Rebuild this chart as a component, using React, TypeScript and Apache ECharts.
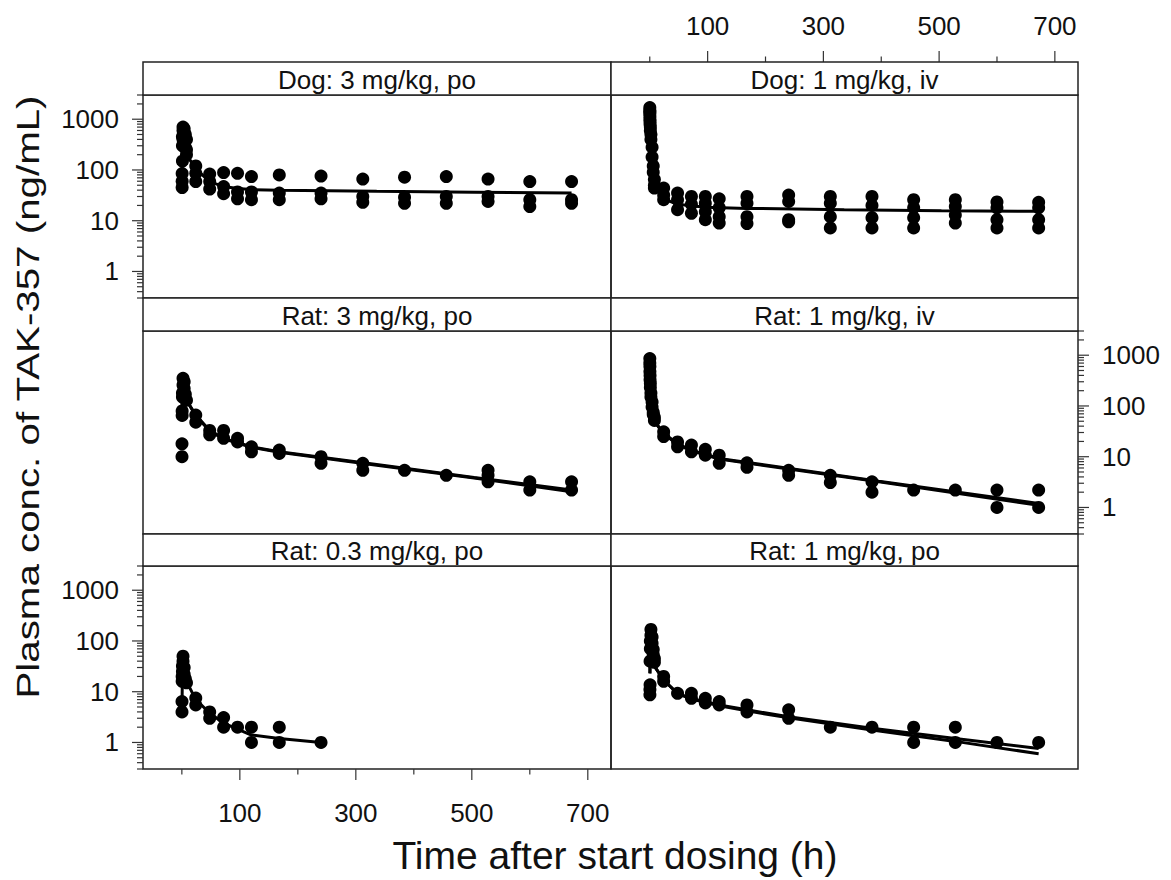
import React, { useEffect, useRef } from "react";
import * as echarts from "echarts";

const FONT = "'Liberation Sans', Arial, Helvetica, sans-serif";

// ---------- Panel titles ----------
const PANEL_TITLES = [
  "Dog: 3 mg/kg, po",
  "Dog: 1 mg/kg, iv",
  "Rat: 3 mg/kg, po",
  "Rat: 1 mg/kg, iv",
  "Rat: 0.3 mg/kg, po",
  "Rat: 1 mg/kg, po",
];

// ---------- Axis ticks ----------
const X_LABELS = [100, 300, 500, 700];
const X_MINOR = [0, 200, 400, 600];
const Y_MAJOR = [1, 10, 100, 1000];
const Y_MINOR = [
  0.3, 0.4, 0.5, 0.6, 0.7, 0.8, 0.9,
  2, 3, 4, 5, 6, 7, 8, 9,
  20, 30, 40, 50, 60, 70, 80, 90,
  200, 300, 400, 500, 600, 700, 800, 900,
  2000, 3000,
];

// ---------- Observed data [time h, conc ng/mL] ----------
const dogPoObs = [
  [0.5, 45], [0.5, 60], [0.5, 85], [1, 150], [1, 300], [1, 450], [2, 400], [2, 600], [2, 700],
  [4, 550], [4, 650], [4, 350], [6, 500], [6, 280], [8, 250], [8, 200], [8, 400],
  [24, 120], [24, 86], [24, 59],
  [48, 83], [48, 59], [48, 42],
  [72, 89], [72, 47], [72, 34],
  [96, 86], [96, 37], [96, 27],
  [120, 74], [120, 37], [120, 26],
  [168, 80], [168, 35], [168, 26],
  [240, 76], [240, 35], [240, 27],
  [312, 66], [312, 30], [312, 23],
  [384, 72], [384, 29], [384, 22],
  [456, 74], [456, 30], [456, 22],
  [528, 66], [528, 30], [528, 24],
  [600, 59], [600, 26], [600, 19],
  [672, 59], [672, 26], [672, 22],
];

const dogIvObs = [
  [0.083, 1700], [0.083, 1500], [0.083, 1300], [0.25, 1400], [0.25, 1150], [0.25, 1000],
  [0.5, 900], [0.5, 800], [1, 700], [1, 600], [2, 500], [2, 400], [4, 280], [4, 180],
  [6, 120], [6, 90], [8, 65], [8, 50], [8, 44],
  [24, 44], [24, 32], [24, 26],
  [48, 35], [48, 26], [48, 16.5],
  [72, 30], [72, 21], [72, 14],
  [96, 30], [96, 22], [96, 15], [96, 10.5],
  [120, 27], [120, 18], [120, 12], [120, 9],
  [168, 30], [168, 22], [168, 12], [168, 8.8],
  [240, 32], [240, 24], [240, 10.5], [240, 9.5],
  [312, 30], [312, 22], [312, 12], [312, 7.2],
  [384, 30], [384, 20], [384, 11.5], [384, 7.2],
  [456, 26], [456, 18], [456, 11.5], [456, 7.2],
  [528, 26], [528, 19], [528, 13], [528, 9],
  [600, 23.5], [600, 18], [600, 10.5], [600, 7.2],
  [672, 23], [672, 18], [672, 10.5], [672, 7.2],
];

const rat3PoObs = [
  [0.25, 10], [0.25, 18], [0.5, 65], [0.5, 80], [1, 150], [1, 180], [2, 260], [2, 350],
  [4, 300], [4, 220], [6, 170], [8, 130],
  [24, 66], [24, 48],
  [48, 33], [48, 27],
  [72, 33], [72, 23],
  [96, 23], [96, 19.5],
  [120, 15.7], [120, 12.5],
  [168, 13.5], [168, 11.6],
  [240, 10], [240, 7.4],
  [312, 7.4], [312, 5.4],
  [384, 5.4],
  [456, 4.3],
  [528, 5.4], [528, 4.3], [528, 3.2],
  [600, 3.2], [600, 2.2],
  [672, 3.2], [672, 2.2],
];

const rat1IvObs = [
  [0.083, 860], [0.083, 700], [0.25, 600], [0.25, 480], [0.5, 400], [0.5, 330], [1, 280], [1, 230],
  [2, 180], [2, 150], [4, 120], [4, 95], [6, 75], [6, 68], [8, 60], [8, 52],
  [24, 31], [24, 25],
  [48, 19.5], [48, 15.7],
  [72, 17], [72, 12.5],
  [96, 14], [96, 10.7],
  [120, 10.7], [120, 7.4],
  [168, 7.6], [168, 6.2],
  [240, 5.4], [240, 4.3],
  [312, 4.3], [312, 3.1],
  [384, 3.2], [384, 2.0],
  [456, 2.2],
  [528, 2.2],
  [600, 2.2], [600, 1.0],
  [672, 2.2], [672, 1.0],
];

const rat03PoObs = [
  [0.25, 4], [0.25, 6.4], [0.5, 16], [0.5, 20], [1, 25], [1, 32], [2, 40], [2, 50],
  [4, 30], [4, 22], [6, 18], [8, 15],
  [24, 7.5], [24, 5.5],
  [48, 4.0], [48, 3.0],
  [72, 3.1], [72, 2.0],
  [96, 2.0],
  [120, 2.0], [120, 1.0],
  [168, 2.0], [168, 1.0],
  [240, 1.0],
];

const rat1PoObs = [
  [0.25, 8.7], [0.25, 11], [0.5, 13.7], [0.5, 40], [1, 70], [1, 100], [2, 130], [2, 169],
  [4, 120], [4, 90], [6, 68], [6, 54], [8, 45], [8, 38],
  [24, 20], [24, 16],
  [48, 9.3],
  [72, 9.3], [72, 7.4],
  [96, 7.4], [96, 6.0],
  [120, 6.4], [120, 5.5],
  [168, 5.5], [168, 4.0],
  [240, 4.4], [240, 3.0],
  [312, 2.0],
  [384, 2.0],
  [456, 2.0], [456, 1.0],
  [528, 2.0], [528, 1.0],
  [600, 1.0],
  [672, 1.0],
];

// ---------- Model fits [time h, conc ng/mL] ----------
const dogPoFit = [
  [0.25, 60], [1, 250], [2, 320], [4, 290], [8, 200], [24, 105], [48, 59], [72, 47],
  [96, 43], [120, 41], [168, 40], [336, 38], [504, 36.5], [672, 35],
];
const dogIvFit = [
  [0.083, 1600], [0.5, 1100], [1, 800], [2, 420], [4, 150], [6, 80], [8, 55], [24, 27],
  [48, 21], [96, 18.5], [168, 17.5], [336, 16.5], [504, 15.8], [672, 15.3],
];
const rat3PoFitA = [
  [0.25, 70], [1, 220], [2, 260], [4, 200], [8, 130], [24, 66], [48, 33], [72, 23],
  [120, 15.7], [168, 12.5], [336, 7.0], [504, 3.9], [672, 2.2],
];
const rat3PoFitB = [
  [0.25, 70], [1, 220], [2, 260], [4, 200], [8, 130], [24, 64], [48, 32], [72, 22.5],
  [120, 15.3], [168, 12.2], [336, 6.8], [504, 3.8], [672, 2.05],
];
const rat1IvFitA = [
  [0.083, 930], [0.5, 520], [1, 350], [2, 200], [4, 100], [8, 50], [24, 29], [48, 18],
  [72, 13.5], [120, 9.2], [396, 3.3], [672, 1.2],
];
const rat1IvFitB = [
  [0.083, 930], [0.5, 520], [1, 350], [2, 200], [4, 100], [8, 50], [24, 28], [48, 17.5],
  [72, 13], [120, 9.0], [396, 3.2], [672, 1.1],
];
const rat03PoFit = [
  [0.25, 4.5], [1, 28], [2, 37], [4, 25], [8, 16], [24, 7], [48, 3.8], [72, 2.4],
  [120, 1.4], [168, 1.2], [240, 1.0],
];
const rat1PoFitA = [
  [0.25, 23], [1, 90], [2, 85], [4, 50], [8, 32], [24, 17], [48, 9.3], [72, 7.4],
  [120, 5.5], [168, 4.4], [240, 3.2], [384, 1.9], [528, 1.2], [672, 0.76],
];
const rat1PoFitB = [
  [0.25, 23], [1, 90], [2, 85], [4, 50], [8, 32], [24, 17], [48, 9.1], [72, 7.2],
  [120, 5.3], [168, 4.2], [240, 3.05], [384, 1.75], [528, 1.05], [672, 0.6],
];

// ---------- Layout ----------
const COLS = [
  { left: 143, width: 468 },
  { left: 611, width: 467 },
];
const ROWS = [
  { top: 95, height: 203, strip: 33 },
  { top: 331, height: 203, strip: 33 },
  { top: 566, height: 203, strip: 32 },
];

type Panel = {
  title: string;
  obs: number[][];
  fits: number[][][];
  row: number;
  col: number;
  yLab: "left" | "right" | null;
  xLab: "top" | "bottom" | null;
};

const PANELS: Panel[] = [
  { title: PANEL_TITLES[0], obs: dogPoObs, fits: [dogPoFit], row: 0, col: 0, yLab: "left", xLab: null },
  { title: PANEL_TITLES[1], obs: dogIvObs, fits: [dogIvFit], row: 0, col: 1, yLab: null, xLab: "top" },
  { title: PANEL_TITLES[2], obs: rat3PoObs, fits: [rat3PoFitA, rat3PoFitB], row: 1, col: 0, yLab: null, xLab: null },
  { title: PANEL_TITLES[3], obs: rat1IvObs, fits: [rat1IvFitA, rat1IvFitB], row: 1, col: 1, yLab: "right", xLab: null },
  { title: PANEL_TITLES[4], obs: rat03PoObs, fits: [rat03PoFit], row: 2, col: 0, yLab: "left", xLab: "bottom" },
  { title: PANEL_TITLES[5], obs: rat1PoObs, fits: [rat1PoFitA, rat1PoFitB], row: 2, col: 1, yLab: null, xLab: null },
];

const INK = "#111";
const BORDER = "#222";

function xFormatter(v: number) {
  const r = Math.round(v);
  return Math.abs(v - r) < 1e-6 && X_LABELS.includes(r) ? String(r) : "";
}
function yFormatter(v: number) {
  const l = Math.log10(v);
  const r = Math.round(l);
  return Math.abs(l - r) < 1e-6 && r >= 0 ? String(Math.round(Math.pow(10, r))) : "";
}

function buildOption() {
  const grid: any[] = [];
  const xAxis: any[] = [];
  const yAxis: any[] = [];
  const series: any[] = [];
  const graphic: any[] = [];

  PANELS.forEach((p, i) => {
    const c = COLS[p.col];
    const r = ROWS[p.row];
    grid.push({
      left: c.left,
      top: r.top,
      width: c.width,
      height: r.height,
      show: true,
      borderColor: BORDER,
      borderWidth: 1.5,
      backgroundColor: "transparent",
      containLabel: false,
    });
    xAxis.push({
      gridIndex: i,
      type: "value",
      min: -67,
      max: 740,
      splitNumber: 8,
      position: p.xLab === "top" ? "top" : "bottom",
      offset: p.xLab === "top" ? r.strip : 0,
      axisLine: { show: false },
      axisTick: { show: false },
      splitLine: { show: false },
      axisLabel: {
        show: !!p.xLab,
        formatter: xFormatter,
        fontSize: 26,
        fontFamily: FONT,
        color: INK,
        margin: p.xLab === "top" ? 23 : 31,
        showMinLabel: false,
        showMaxLabel: false,
      },
    });
    yAxis.push({
      gridIndex: i,
      type: "log",
      logBase: 10,
      min: 0.3,
      max: 3000,
      position: p.yLab === "right" ? "right" : "left",
      axisLine: { show: false },
      axisTick: { show: false },
      splitLine: { show: false },
      minorTick: { show: false },
      axisLabel: {
        show: !!p.yLab,
        formatter: yFormatter,
        fontSize: 26,
        fontFamily: FONT,
        color: INK,
        margin: 24,
        showMinLabel: false,
        showMaxLabel: false,
      },
    });

    p.fits.forEach((f) => {
      series.push({
        type: "line",
        xAxisIndex: i,
        yAxisIndex: i,
        data: f,
        showSymbol: false,
        symbol: "none",
        silent: true,
        lineStyle: { color: "#000", width: 3 },
        z: 2,
      });
    });
    series.push({
      type: "scatter",
      xAxisIndex: i,
      yAxisIndex: i,
      data: p.obs,
      symbol: "circle",
      symbolSize: 13,
      silent: true,
      itemStyle: { color: "#000", opacity: 1 },
      z: 3,
    });

    if (p.yLab) {
      const side = p.yLab;
      series.push({
        type: "custom",
        xAxisIndex: i,
        yAxisIndex: i,
        clip: false,
        silent: true,
        z: 5,
        data: [...Y_MAJOR.map((v) => [0, v, 1]), ...Y_MINOR.map((v) => [0, v, 0])],
        renderItem: (params: any, api: any) => {
          const cs = params.coordSys;
          const pt = api.coord([api.value(0), api.value(1)]);
          const len = api.value(2) ? 11 : 6;
          const x0 = side === "left" ? cs.x : cs.x + cs.width;
          const x1 = side === "left" ? x0 - len : x0 + len;
          return {
            type: "line",
            shape: { x1: x0, y1: pt[1], x2: x1, y2: pt[1] },
            style: { stroke: "#333", lineWidth: 1.2 },
          };
        },
      });
    }
    if (p.xLab) {
      const side = p.xLab;
      const strip = r.strip;
      series.push({
        type: "custom",
        xAxisIndex: i,
        yAxisIndex: i,
        clip: false,
        silent: true,
        z: 5,
        data: [...X_LABELS.map((v) => [v, 1, 1]), ...X_MINOR.map((v) => [v, 1, 0])],
        renderItem: (params: any, api: any) => {
          const cs = params.coordSys;
          const pt = api.coord([api.value(0), api.value(1)]);
          const len = api.value(2) ? 11 : 5.5;
          const y0 = side === "bottom" ? cs.y + cs.height : cs.y - strip;
          const y1 = side === "bottom" ? y0 + len : y0 - len;
          return {
            type: "line",
            shape: { x1: pt[0], y1: y0, x2: pt[0], y2: y1 },
            style: { stroke: "#333", lineWidth: 1.2 },
          };
        },
      });
    }

    // strip
    graphic.push({
      type: "rect",
      shape: { x: c.left, y: r.top - r.strip, width: c.width, height: r.strip },
      style: { fill: "#fff", stroke: BORDER, lineWidth: 1.5 },
      z: 10,
      silent: true,
    });
    graphic.push({
      type: "text",
      x: c.left + c.width / 2,
      y: r.top - r.strip / 2 + 1,
      style: {
        text: p.title,
        fontSize: 26,
        fontFamily: FONT,
        fill: INK,
        align: "center",
        verticalAlign: "middle",
        textAlign: "center",
        textVerticalAlign: "middle",
      },
      z: 11,
      silent: true,
    });
  });

  graphic.push({
    type: "text",
    x: 615,
    y: 855,
    style: {
      text: "Time after start dosing (h)",
      fontSize: 39,
      fontFamily: FONT,
      fill: INK,
      align: "center",
      verticalAlign: "middle",
      textAlign: "center",
      textVerticalAlign: "middle",
    },
    z: 11,
    silent: true,
  });
  graphic.push({
    type: "text",
    x: 28,
    y: 397,
    rotation: Math.PI / 2,
    scaleX: 1.3,
    style: {
      text: "Plasma conc. of TAK-357 (ng/mL)",
      fontSize: 31,
      fontFamily: FONT,
      fill: INK,
      align: "center",
      verticalAlign: "middle",
      textAlign: "center",
      textVerticalAlign: "middle",
    },
    z: 11,
    silent: true,
  });

  return {
    animation: false,
    backgroundColor: "#fff",
    textStyle: { fontFamily: FONT },
    grid,
    xAxis,
    yAxis,
    series,
    graphic,
  };
}

export default function App() {
  const ref = useRef<HTMLDivElement>(null);
  useEffect(() => {
    if (!ref.current) return;
    const chart = echarts.init(ref.current, null, { renderer: "svg" });
    chart.setOption(buildOption() as any);
    return () => {
      chart.dispose();
    };
  }, []);
  return (
    <div
      ref={ref}
      style={{ position: "absolute", left: 0, top: 0, width: 1171, height: 880 }}
    />
  );
}
